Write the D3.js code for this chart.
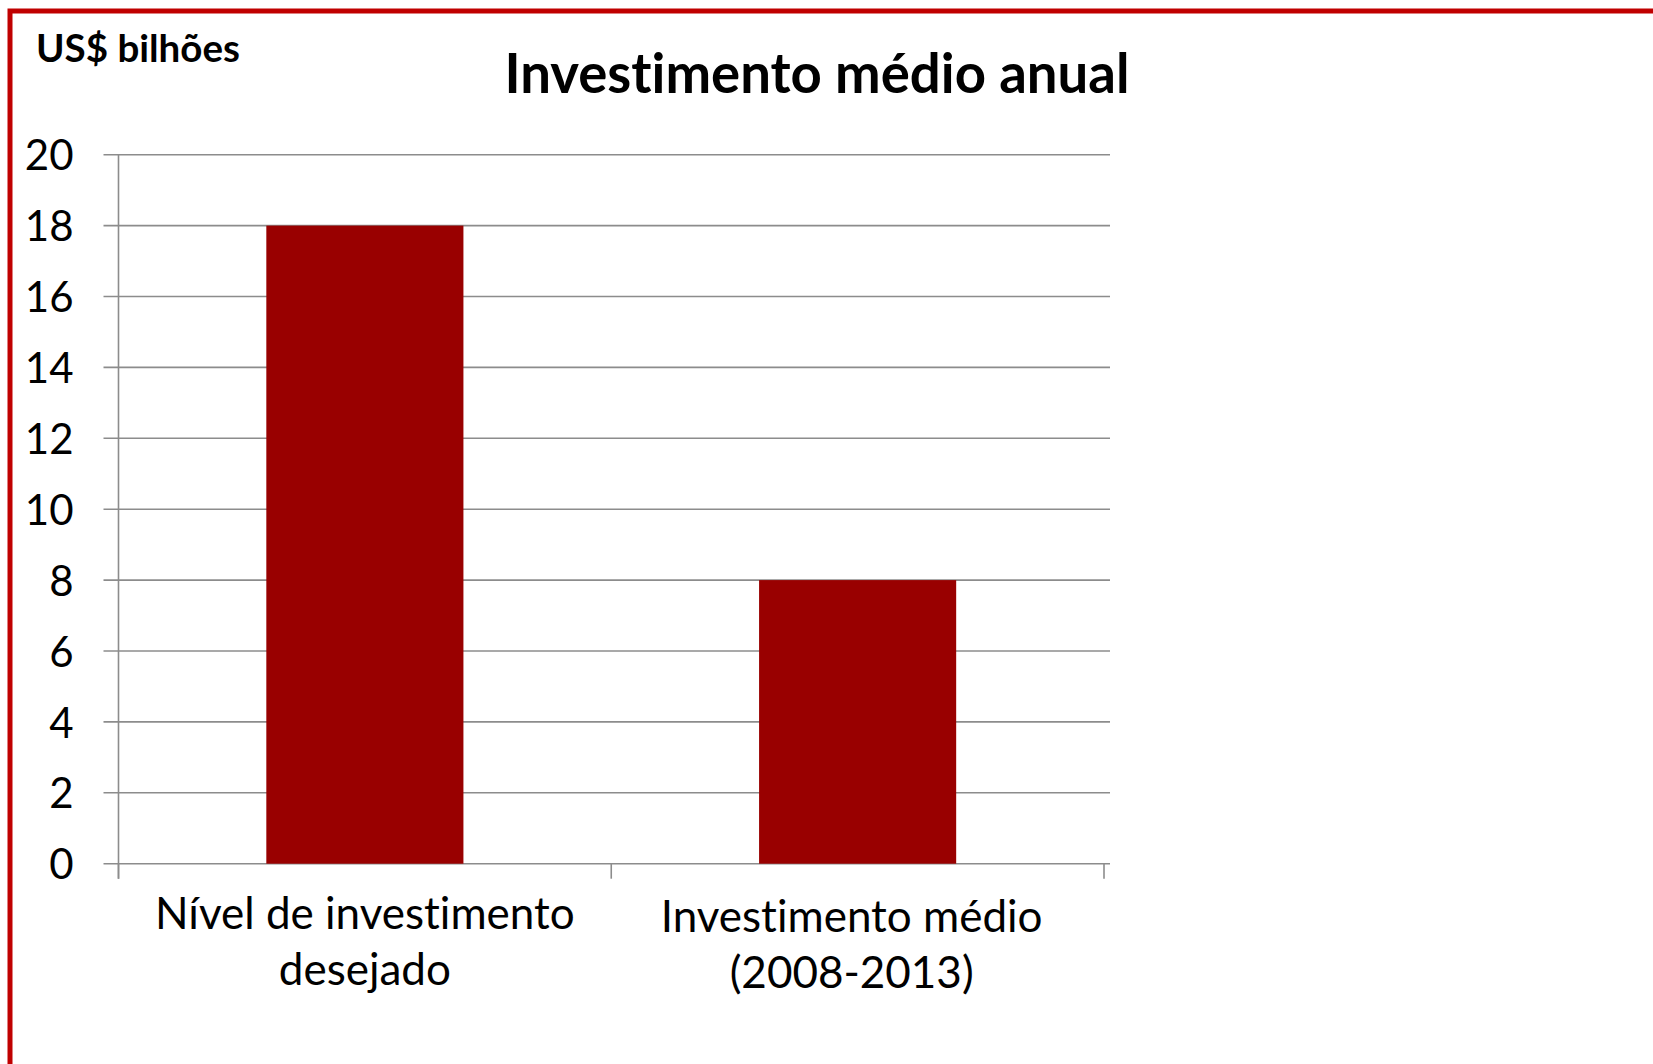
<!DOCTYPE html>
<html>
<head>
<meta charset="utf-8">
<script src="https://cdn.jsdelivr.net/npm/d3@7"></script>
<style>
  html, body { margin: 0; padding: 0; background: #ffffff; overflow: hidden; }
  svg { display: block; }
  text { font-family: Lato, "Open Sans", sans-serif; fill: #000; font-variant-ligatures: none; font-feature-settings: "liga" 0, "clig" 0; }
</style>
</head>
<body>
<svg id="chart" width="1653" height="1064"></svg>
<script>
// Average annual investment, US$ billions
const categories = [
  ["Nível de investimento", "desejado"],
  ["Investimento médio", "(2008-2013)"]
];
const values = [18, 8];
const yTicks = [0, 2, 4, 6, 8, 10, 12, 14, 16, 18, 20];
const titleText = "Investimento médio anual";
const unitText = "US$ bilhões";

const svg = d3.select("#chart");
const W = 1653, H = 1064;

// slide frame (left and top edges visible)
svg.append("rect")
  .attr("x", 10).attr("y", 11)
  .attr("width", W + 20).attr("height", H + 20)
  .attr("fill", "none")
  .attr("stroke", "#c00000")
  .attr("stroke-width", 5);

const plot = { left: 118.5, right: 1104, top: 154.7, bottom: 863.7, gridEnd: 1110 };

const keys = categories.map(c => c.join(" "));
const x = d3.scaleBand().domain(keys).range([plot.left, plot.right]).padding(0);
const y = d3.scaleLinear().domain([0, 20]).range([plot.bottom, plot.top]);

// horizontal gridlines with outward tick
svg.append("g").selectAll("line")
  .data(yTicks)
  .join("line")
  .attr("x1", plot.left - 15)
  .attr("x2", plot.gridEnd)
  .attr("y1", d => y(d))
  .attr("y2", d => y(d))
  .attr("stroke", "#8c8c8c")
  .attr("stroke-width", 1.6);

// bars
svg.append("g").selectAll("rect")
  .data(values)
  .join("rect")
  .attr("x", (d, i) => x(keys[i]) + x.bandwidth() * 0.3)
  .attr("width", x.bandwidth() * 0.4)
  .attr("y", d => y(d))
  .attr("height", d => y(0) - y(d))
  .attr("fill", "#990000");

// value axis
const yAxis = svg.append("g")
  .attr("transform", `translate(${plot.left},0)`)
  .call(d3.axisLeft(y).tickValues(yTicks).tickSize(0).tickPadding(45).tickFormat(d3.format("d")));
yAxis.select(".domain").remove();
yAxis.selectAll("text")
  .style("font-family", "Lato, 'Open Sans', sans-serif")
  .style("font-size", "42px")
  .attr("fill", "#000")
  .attr("dy", "0.36em");

// vertical axis line
svg.append("line")
  .attr("x1", plot.left).attr("x2", plot.left)
  .attr("y1", plot.top).attr("y2", plot.bottom + 15)
  .attr("stroke", "#8c8c8c").attr("stroke-width", 1.6);

// category axis: ticks at band boundaries
const xAxis = svg.append("g")
  .attr("transform", `translate(0,${plot.bottom})`)
  .call(d3.axisBottom(x).tickSize(0).tickPadding(0));
xAxis.select(".domain").remove();
const bounds = keys.map(k => x(k)).concat([x.range()[1]]);
xAxis.append("g").selectAll("line")
  .data(bounds)
  .join("line")
  .attr("x1", d => d).attr("x2", d => d)
  .attr("y1", 0).attr("y2", 15)
  .attr("stroke", "#8c8c8c").attr("stroke-width", 1.6);

// two-line category labels; the second sits a touch left and lower
const labelShift = [0, -6];
xAxis.selectAll(".tick text").each(function(d, i) {
  const t = d3.select(this);
  t.text(null)
    .attr("y", 0)
    .attr("dy", null)
    .style("font-family", "Lato, 'Open Sans', sans-serif")
    .style("font-size", "44px")
    .attr("fill", "#000");
  categories[i].forEach((line, j) => {
    t.append("tspan").attr("x", labelShift[i]).attr("y", 65 + i * 3 + j * 56).text(line);
  });
});

// unit label
svg.append("text")
  .attr("x", 36).attr("y", 61.5)
  .style("font-size", "38.5px")
  .style("font-weight", "700")
  .text(unitText);

// title
svg.append("text")
  .attr("x", 817).attr("y", 93)
  .attr("text-anchor", "middle")
  .style("font-size", "54.5px")
  .style("font-weight", "700")
  .text(titleText);
</script>
</body>
</html>
